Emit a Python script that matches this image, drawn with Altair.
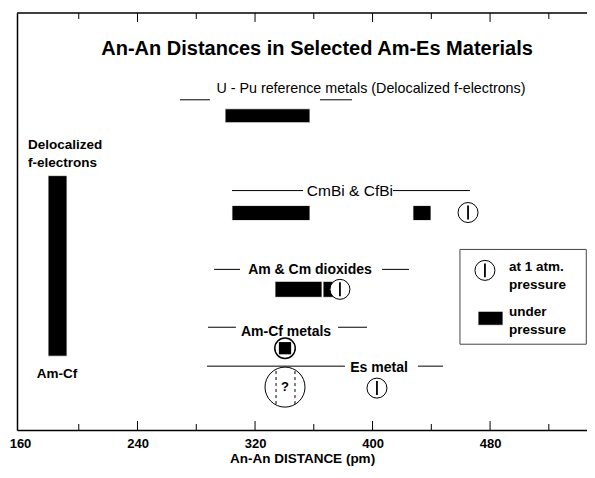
import altair as alt
import pandas as pd

FONT = "Liberation Sans"
X_DOMAIN = [157.96, 545.98]   # An-An distance (pm)
Y_DOMAIN = [0, 418]           # arbitrary vertical layout levels

# ---- axis ticks ----
axis_labels = [160, 240, 320, 400, 480]
major_ticks = [240, 320, 400, 480]
minor_ticks = [200, 280, 360, 440, 520]

# ---- filled bars (pressure ranges) ----
bar_names = ["Am-Cf deloc", "U-Pu", "CmBi", "CfBi", "AmO2", "CmO2", "legend"]
bar_x1 = [179.1, 299.6, 304.3, 427.5, 333.6, 366.3, 471.8]
bar_x2 = [192.0, 357.4, 357.4, 439.8, 365.6, 374.4, 488.8]
bar_y1 = [74, 308, 210, 210, 133, 133, 105]
bar_y2 = [255, 322, 225, 225, 149, 149, 119]

# ---- group header side lines ----
seg_x1 = [268.9, 364.2, 304.3, 413.9, 292.1, 406.4, 288.0, 376.5, 287.3, 430.9]
seg_x2 = [289.3, 386.0, 352.7, 466.3, 309.8, 424.8, 307.0, 396.2, 381.2, 448.0]
seg_y = [331, 331, 240, 240, 161, 161, 103, 103, 64, 64]

# ---- 1 atm markers (circle with bar) ----
atm_names = ["CfBi", "CmO2", "Es", "legend"]
atm_x = [465.0, 377.8, 403.0, 476.5]
atm_y = [218, 141, 42, 160]

# ---- Am-Cf metals marker (circle with square) ----
amcf_x = [340.4]
amcf_y = [82]

# ---- uncertain Es value (big circle with ?) ----
es_q_x = [340.4]
es_q_y = [43]
es_dash_x = [334.3, 347.2]
es_dash_y1 = [26, 26]
es_dash_y2 = [60, 60]

# ---- legend box ----
legend_x1 = [459.5]
legend_x2 = [545.5]
legend_y1 = [86]
legend_y2 = [181]

# ---- texts ----
bold_texts = ["An-An Distances in Selected Am-Es Materials",
              "Am & Cm dioxides", "Am-Cf metals", "Es metal", "Am-Cf", "?"]
bold_x = [362.2, 357.4, 341.1, 404.4, 185.2, 340.4]
bold_y = [382, 160, 98, 62, 56, 43]
bold_size = [20, 14, 14, 14, 13.5, 13]

plain_texts = ["U - Pu reference metals (Delocalized f-electrons)", "CmBi & CfBi"]
plain_x = [398.9, 384.6]
plain_y = [342, 240]
plain_size = [14.3, 15.5]

left_texts = ["Delocalized", "f-electrons", "at 1 atm.", "pressure", "under", "pressure"]
left_x = [165.5, 165.5, 492.9, 492.9, 492.9, 492.9]
left_y = [286, 268, 163, 145, 118, 100]

xs = alt.Scale(domain=X_DOMAIN, nice=False, zero=False)
ys = alt.Scale(domain=Y_DOMAIN, nice=False, zero=False)

bars = pd.DataFrame({"name": bar_names, "x1": bar_x1, "x2": bar_x2, "y1": bar_y1, "y2": bar_y2})
segs = pd.DataFrame({"x1": seg_x1, "x2": seg_x2, "y": seg_y})
atm = pd.DataFrame({"name": atm_names, "x": atm_x, "y": atm_y})
atm["ylo"] = atm["y"] - 7
atm["yhi"] = atm["y"] + 7
amcf = pd.DataFrame({"x": amcf_x, "y": amcf_y})
esq = pd.DataFrame({"x": es_q_x, "y": es_q_y})
esd = pd.DataFrame({"x": es_dash_x, "y1": es_dash_y1, "y2": es_dash_y2})
leg = pd.DataFrame({"x1": legend_x1, "x2": legend_x2, "y1": legend_y1, "y2": legend_y2})
bt = pd.DataFrame({"t": bold_texts, "x": bold_x, "y": bold_y, "s": bold_size})
pt = pd.DataFrame({"t": plain_texts, "x": plain_x, "y": plain_y, "s": plain_size})
lt = pd.DataFrame({"t": left_texts, "x": left_x, "y": left_y})

ticks = pd.DataFrame({
    "x": major_ticks + minor_ticks,
    "len": [9] * len(major_ticks) + [6] * len(minor_ticks),
})
ticks["b0"] = 0
ticks["t0"] = Y_DOMAIN[1]
ticks["t1"] = Y_DOMAIN[1] - ticks["len"]
top_line = pd.DataFrame({"x1": [X_DOMAIN[0]], "x2": [X_DOMAIN[1]], "y": [Y_DOMAIN[1]]})

base_x_axis = alt.Axis(values=axis_labels, format="d", ticks=False, grid=False,
                       domainColor="black", domainWidth=1.5, labelFlush=False,
                       labelFont=FONT, labelFontWeight="bold", labelFontSize=13,
                       labelColor="black", labelPadding=7,
                       title="An-An DISTANCE (pm)", titleFont=FONT,
                       titleFontWeight="bold", titleFontSize=13.5,
                       titleColor="black", titlePadding=1)
base_y_axis = alt.Axis(labels=False, ticks=False, grid=False, title=None,
                       domainColor="black", domainWidth=1.5)

bar_layer = alt.Chart(bars).mark_rect(color="black", stroke="white", strokeWidth=0.8).encode(
    x=alt.X("x1:Q", scale=xs, axis=base_x_axis), x2="x2:Q",
    y=alt.Y("y1:Q", scale=ys, axis=base_y_axis), y2="y2:Q")

seg_layer = alt.Chart(segs).mark_rule(color="black", strokeWidth=1).encode(
    x=alt.X("x1:Q", scale=xs), x2="x2:Q", y=alt.Y("y:Q", scale=ys))

top_layer = alt.Chart(top_line).mark_rule(color="black", strokeWidth=1.5).encode(
    x=alt.X("x1:Q", scale=xs), x2="x2:Q", y=alt.Y("y:Q", scale=ys))

tick_bottom = alt.Chart(ticks).mark_rule(color="black", strokeWidth=1).encode(
    x=alt.X("x:Q", scale=xs), y=alt.Y("b0:Q", scale=ys), y2="len:Q")
tick_top = alt.Chart(ticks).mark_rule(color="black", strokeWidth=1).encode(
    x=alt.X("x:Q", scale=xs), y=alt.Y("t1:Q", scale=ys), y2="t0:Q")

leg_layer = alt.Chart(leg).mark_rect(fill="white", fillOpacity=0, stroke="#444444", strokeWidth=1).encode(
    x=alt.X("x1:Q", scale=xs), x2="x2:Q", y=alt.Y("y1:Q", scale=ys), y2="y2:Q")

atm_circles = alt.Chart(atm).mark_point(shape="circle", size=400, filled=True, fill="white",
                                        stroke="black", strokeWidth=1, opacity=1).encode(
    x=alt.X("x:Q", scale=xs), y=alt.Y("y:Q", scale=ys))
atm_bars = alt.Chart(atm).mark_rule(color="black", strokeWidth=1.8).encode(
    x=alt.X("x:Q", scale=xs), y=alt.Y("ylo:Q", scale=ys), y2="yhi:Q")

amcf_circle = alt.Chart(amcf).mark_point(shape="circle", size=420, filled=True, fill="white",
                                         stroke="black", strokeWidth=1.5, opacity=1).encode(
    x=alt.X("x:Q", scale=xs), y=alt.Y("y:Q", scale=ys))
amcf_square = alt.Chart(amcf).mark_point(shape="square", size=150, filled=True, color="black", opacity=1).encode(
    x=alt.X("x:Q", scale=xs), y=alt.Y("y:Q", scale=ys))

esq_circle = alt.Chart(esq).mark_point(shape="circle", size=1600, filled=True, fill="white",
                                       stroke="black", strokeWidth=1, opacity=1).encode(
    x=alt.X("x:Q", scale=xs), y=alt.Y("y:Q", scale=ys))
esq_dash = alt.Chart(esd).mark_rule(color="black", strokeWidth=1, strokeDash=[3, 3]).encode(
    x=alt.X("x:Q", scale=xs), y=alt.Y("y1:Q", scale=ys), y2="y2:Q")

bold_layer = alt.Chart(bt).mark_text(font=FONT, align="center", baseline="middle", color="black",
                                     fontWeight="bold").encode(
    x=alt.X("x:Q", scale=xs), y=alt.Y("y:Q", scale=ys), text="t:N",
    size=alt.Size("s:Q", scale=None, legend=None))

plain_layer = alt.Chart(pt).mark_text(font=FONT, align="center", baseline="middle", color="black").encode(
    x=alt.X("x:Q", scale=xs), y=alt.Y("y:Q", scale=ys), text="t:N",
    size=alt.Size("s:Q", scale=None, legend=None))

left_layer = alt.Chart(lt).mark_text(font=FONT, align="left", baseline="middle", color="black",
                                     fontSize=13.5, fontWeight="bold").encode(
    x=alt.X("x:Q", scale=xs), y=alt.Y("y:Q", scale=ys), text="t:N")

chart = alt.layer(
    bar_layer, seg_layer, top_layer, tick_bottom, tick_top, leg_layer,
    atm_circles, atm_bars, amcf_circle, amcf_square, esq_circle, esq_dash,
    bold_layer, plain_layer, left_layer,
).properties(
    width=570, height=417,
    autosize=alt.AutoSizeParams(type="none"),
    padding={"left": 9, "top": 5, "right": 0, "bottom": 36},
    background="white",
).configure_view(stroke=None)

chart.save("out.html", embed_options={"renderer": "svg", "actions": False})
